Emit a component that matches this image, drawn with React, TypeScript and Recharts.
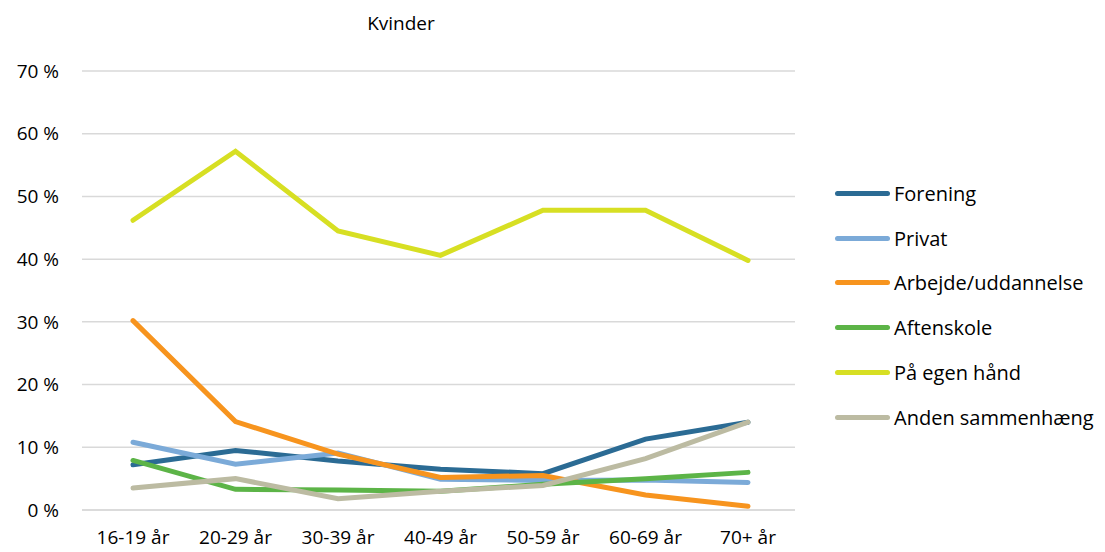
import React from "react";
import { LineChart, Line, XAxis, YAxis, CartesianGrid } from "recharts";

// categories and series (percent)
const ageGroups = ["16-19 år", "20-29 år", "30-39 år", "40-49 år", "50-59 år", "60-69 år", "70+ år"];
const forening = [7.2, 9.5, 7.8, 6.5, 5.8, 11.3, 14.0];
const privat = [10.8, 7.3, 9.1, 4.9, 4.7, 4.8, 4.4];
const arbejde = [30.2, 14.1, 8.9, 5.2, 5.5, 2.4, 0.6];
const aftenskole = [7.9, 3.3, 3.2, 3.0, 4.1, 5.0, 6.0];
const egenHaand = [46.2, 57.2, 44.5, 40.6, 47.8, 47.8, 39.8];
const anden = [3.5, 5.0, 1.8, 3.0, 3.9, 8.2, 14.0];
const yTicks = [0, 10, 20, 30, 40, 50, 60, 70];

const series = [
	{ key: "forening", name: "Forening", values: forening, color: "#2B6B94" },
	{ key: "privat", name: "Privat", values: privat, color: "#7BAAD8" },
	{ key: "arbejde", name: "Arbejde/uddannelse", values: arbejde, color: "#F7941E" },
	{ key: "aftenskole", name: "Aftenskole", values: aftenskole, color: "#5CB447" },
	{ key: "egen", name: "På egen hånd", values: egenHaand, color: "#D7DF23" },
	{ key: "anden", name: "Anden sammenhæng", values: anden, color: "#BCBBA2" },
];

const data = ageGroups.map((age, i) => {
	const row: Record<string, string | number> = { age };
	series.forEach((s) => (row[s.key] = s.values[i]));
	return row;
});

const font = "'Open Sans', 'Liberation Sans', sans-serif";

export default function App() {
	return (
		<div style={{ position: "absolute", left: 0, top: 0, width: 1105, height: 552, background: "#fff", fontFamily: font }}>
			<div style={{ position: "absolute", left: 0, width: 802, top: 10, textAlign: "center", fontSize: 19, color: "#000" }}>Kvinder</div>
			<LineChart width={1105} height={552} data={data} margin={{ top: 71, right: 310, bottom: 0, left: 0 }}>
				<CartesianGrid vertical={false} stroke='#D9D9D9' strokeWidth={1.5} />
				<XAxis
					dataKey='age'
					height={42}
					padding={{ left: 51, right: 47 }}
					tickSize={0}
					tickMargin={21}
					axisLine={{ stroke: "#D9D9D9", strokeWidth: 1.5 }}
					tick={{ fill: "#000", fontSize: 19, fontFamily: font }}
				/>
				<YAxis
					width={82}
					domain={[0, 70]}
					ticks={yTicks}
					tickFormatter={(v) => `${v} %`}
					axisLine={false}
					tickSize={0}
					tickMargin={23}
					tick={{ fill: "#000", fontSize: 19, fontFamily: font }}
				/>
				{series.map((s) => (
					<Line
						key={s.key}
						dataKey={s.key}
						name={s.name}
						type='linear'
						stroke={s.color}
						strokeWidth={5}
						strokeLinecap='round'
						dot={false}
						isAnimationActive={false}
					/>
				))}
			</LineChart>
			<div style={{ position: "absolute", left: 835, top: 171 }}>
				{series.map((s) => (
					<div key={s.key} style={{ display: "flex", alignItems: "center", height: 44.8 }}>
						<div style={{ width: 55, height: 5, borderRadius: 3, background: s.color, marginRight: 4 }} />
						<span style={{ fontSize: 20, color: "#000", whiteSpace: "nowrap" }}>{s.name}</span>
					</div>
				))}
			</div>
		</div>
	);
}
